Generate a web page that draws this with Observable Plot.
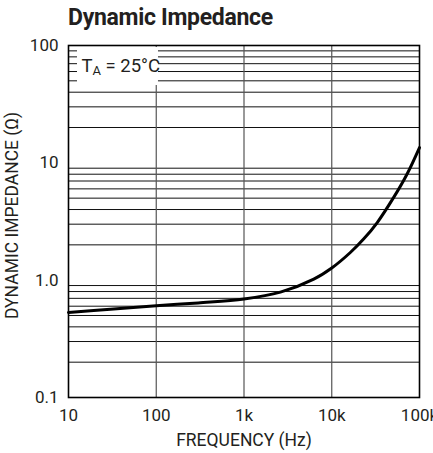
<!DOCTYPE html>
<html>
<head>
<meta charset="utf-8">
<script src="https://cdn.jsdelivr.net/npm/d3@7"></script>
<script src="https://cdn.jsdelivr.net/npm/@observablehq/plot@0.6"></script>
<style>
  html, body { margin: 0; padding: 0; background: #fff; }
  body { width: 433px; height: 453px; position: relative; overflow: hidden;
         font-family: "Roboto", sans-serif; }
  #title { position: absolute; left: 68px; top: 4px; font-size: 23px; font-weight: bold;
           color: #231f20; white-space: nowrap; letter-spacing: -0.3px; }
  #chart { position: absolute; left: 0; top: 0; }
</style>
</head>
<body>
<div id="chart"></div>
<div id="title">Dynamic Impedance</div>
<script>
// Data
const frequencyHz = [10, 30, 100, 300, 1000, 2600, 6240, 10000, 16400, 23200, 33000, 51000, 72000, 100000];
const impedanceOhm = [0.531, 0.565, 0.605, 0.64, 0.69, 0.79, 1.02, 1.27, 1.73, 2.25, 3.1, 5.1, 8.0, 13.5];

const xTicks = [10, 100, 1000, 10000, 100000];
const xTickLabels = ["10", "100", "1k", "10k", "100k"];
const yTicks = [0.1, 1, 10, 100];
const yTickLabels = ["0.1", "1.0", "10", "100"];
const yMinorGrid = [0.2,0.3,0.4,0.5,0.6,0.7,0.8,0.9, 2,3,4,5,6,7,8,9, 20,30,40,50,60,70,80,90];
const xMajorGrid = [100, 1000, 10000];
const legendBox = [{x1: 12.66, x2: 106, y1: 45.6, y2: 96.1}];

const data = frequencyHz.map((f, i) => ({f, z: impedanceOhm[i]}));
const fmtX = (d) => xTickLabels[xTicks.indexOf(d)];
const fmtY = (d) => yTickLabels[yTicks.indexOf(d)];

const chart = Plot.plot({
  width: 433,
  height: 453,
  marginLeft: 68,
  marginRight: 14,
  marginTop: 45,
  marginBottom: 56,
  style: {fontFamily: 'Roboto, sans-serif', fontSize: "17px", color: "#231f20", background: "white"},
  x: {type: "log", domain: [10, 100000], label: null},
  y: {type: "log", domain: [0.1, 100], label: null},
  marks: [
    Plot.ruleY(yMinorGrid, {stroke: "#111", strokeWidth: 1}),
    Plot.ruleX(xMajorGrid, {stroke: "#555", strokeWidth: 1.2}),
    Plot.rect(legendBox, {x1: "x1", x2: "x2", y1: "y1", y2: "y2", fill: "white"}),
    Plot.text(["T"], {x: 10, y: 68, dx: 13, dy: 1, text: (d) => d, textAnchor: "start", fontSize: 18.5}),
    Plot.text(["A"], {x: 10, y: 68, dx: 24, dy: 6, text: (d) => d, textAnchor: "start", fontSize: 13}),
    Plot.text(["= 25°C"], {x: 10, y: 68, dx: 37, dy: 1, text: (d) => d, textAnchor: "start", fontSize: 18.5}),
    Plot.line(data, {x: "f", y: "z", curve: "catmull-rom", stroke: "#000", strokeWidth: 3}),
    Plot.frame({stroke: "#000", strokeWidth: 1.6}),
    Plot.axisX(xTicks, {tickSize: 0, tickPadding: 11, tickFormat: fmtX, fontSize: 17}),
    Plot.axisY(yTicks, {tickSize: 0, tickPadding: 10, tickFormat: fmtY, fontSize: 17}),
    Plot.text(["FREQUENCY (Hz)"], {frameAnchor: "bottom", dy: 48, fontSize: 17.5}),
    Plot.text(["DYNAMIC IMPEDANCE (Ω)"], {frameAnchor: "left", dx: -56, dy: -6, rotate: -90, textAnchor: "middle", fontSize: 17.5})
  ]
});
document.getElementById("chart").appendChild(chart);
</script>
</body>
</html>
